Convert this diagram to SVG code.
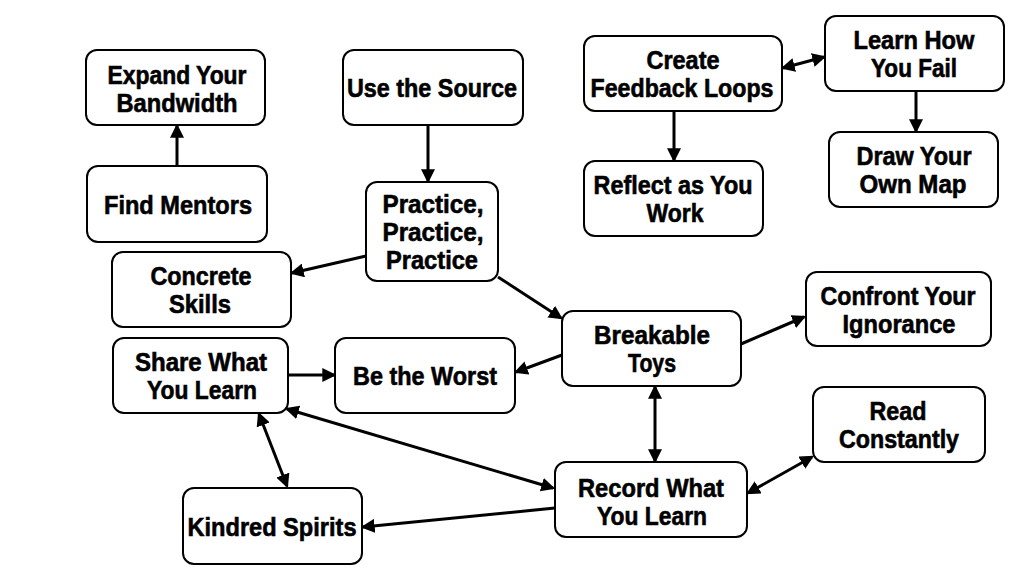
<svg xmlns="http://www.w3.org/2000/svg" width="1024" height="576" viewBox="0 0 1024 576">
<style>
.box{fill:#fff;stroke:#000;stroke-width:2}
.t{font-family:"Liberation Sans Narrow","Liberation Sans",Arial,sans-serif;font-weight:bold;font-size:25.5px;fill:#000;stroke:#000;stroke-width:0.6;text-anchor:middle}
.c{stroke:#000;stroke-width:3;fill:none}
.a{marker-end:url(#ah)}
.b{marker-start:url(#ah);marker-end:url(#ah)}
</style>
<defs>
<marker id="ah" viewBox="0 0 12 12" refX="10" refY="6" markerWidth="14" markerHeight="14" markerUnits="userSpaceOnUse" orient="auto-start-reverse">
<path d="M0,0 L12,6 L0,12 z" fill="#000"/>
</marker>
</defs>
<rect width="1024" height="576" fill="#fff"/>
<g id="connectors">
<line class="c a" x1="177" y1="166" x2="177" y2="126"/>
<line class="c a" x1="428" y1="125" x2="428" y2="181"/>
<line class="c a" x1="366" y1="256" x2="292" y2="273"/>
<line class="c a" x1="498" y1="277" x2="561" y2="318"/>
<line class="c a" x1="562" y1="355" x2="516" y2="372"/>
<line class="c a" x1="288" y1="375" x2="334" y2="375"/>
<line class="c a" x1="741" y1="344" x2="804" y2="317"/>
<line class="c b" x1="655" y1="387" x2="655" y2="461"/>
<line class="c b" x1="287" y1="409" x2="553" y2="488"/>
<line class="c b" x1="259" y1="414" x2="287" y2="486"/>
<line class="c a" x1="555" y1="508" x2="363" y2="527"/>
<line class="c b" x1="748" y1="493" x2="812" y2="457"/>
<line class="c b" x1="783" y1="68" x2="824" y2="57"/>
<line class="c a" x1="674" y1="111" x2="674" y2="160"/>
<line class="c a" x1="916" y1="91" x2="916" y2="131"/>
</g>
<g id="expand"><rect class="box" x="86" y="50" width="179" height="75" rx="11"/><text class="t" x="177" y="84" textLength="139" lengthAdjust="spacingAndGlyphs">Expand Your</text><text class="t" x="177" y="112" textLength="121" lengthAdjust="spacingAndGlyphs">Bandwidth</text></g>
<g id="mentors"><rect class="box" x="87" y="166" width="180" height="76" rx="11"/><text class="t" x="178" y="214" textLength="148" lengthAdjust="spacingAndGlyphs">Find Mentors</text></g>
<g id="source"><rect class="box" x="343" y="50" width="180" height="75" rx="11"/><text class="t" x="432" y="97" textLength="170" lengthAdjust="spacingAndGlyphs">Use the Source</text></g>
<g id="practice"><rect class="box" x="366" y="182" width="132" height="99" rx="11"/><text class="t" x="433" y="213" textLength="101" lengthAdjust="spacingAndGlyphs">Practice,</text><text class="t" x="433" y="241" textLength="101" lengthAdjust="spacingAndGlyphs">Practice,</text><text class="t" x="432" y="269" textLength="92" lengthAdjust="spacingAndGlyphs">Practice</text></g>
<g id="create"><rect class="box" x="584" y="36" width="198" height="75" rx="11"/><text class="t" x="683" y="69" textLength="73" lengthAdjust="spacingAndGlyphs">Create</text><text class="t" x="682" y="97" textLength="183" lengthAdjust="spacingAndGlyphs">Feedback Loops</text></g>
<g id="learnfail"><rect class="box" x="825" y="16" width="179" height="75" rx="11"/><text class="t" x="914" y="49" textLength="121" lengthAdjust="spacingAndGlyphs">Learn How</text><text class="t" x="914" y="77" textLength="86" lengthAdjust="spacingAndGlyphs">You Fail</text></g>
<g id="reflect"><rect class="box" x="584" y="161" width="179" height="75" rx="11"/><text class="t" x="673" y="194" textLength="159" lengthAdjust="spacingAndGlyphs">Reflect as You</text><text class="t" x="675" y="222" textLength="57" lengthAdjust="spacingAndGlyphs">Work</text></g>
<g id="drawmap"><rect class="box" x="829" y="132" width="169" height="75" rx="11"/><text class="t" x="914" y="165" textLength="115" lengthAdjust="spacingAndGlyphs">Draw Your</text><text class="t" x="913" y="193" textLength="107" lengthAdjust="spacingAndGlyphs">Own Map</text></g>
<g id="concrete"><rect class="box" x="112" y="252" width="179" height="75" rx="11"/><text class="t" x="201" y="285" textLength="101" lengthAdjust="spacingAndGlyphs">Concrete</text><text class="t" x="200" y="313" textLength="62" lengthAdjust="spacingAndGlyphs">Skills</text></g>
<g id="share"><rect class="box" x="113" y="338" width="175" height="75" rx="11"/><text class="t" x="201" y="371" textLength="132" lengthAdjust="spacingAndGlyphs">Share What</text><text class="t" x="202" y="399" textLength="110" lengthAdjust="spacingAndGlyphs">You Learn</text></g>
<g id="worst"><rect class="box" x="335" y="338" width="180" height="75" rx="11"/><text class="t" x="425" y="385" textLength="144" lengthAdjust="spacingAndGlyphs">Be the Worst</text></g>
<g id="breakable"><rect class="box" x="562" y="311" width="179" height="75" rx="11"/><text class="t" x="652" y="344" textLength="116" lengthAdjust="spacingAndGlyphs">Breakable</text><text class="t" x="652" y="372" textLength="48" lengthAdjust="spacingAndGlyphs">Toys</text></g>
<g id="confront"><rect class="box" x="806" y="272" width="185" height="74" rx="11"/><text class="t" x="898" y="305" textLength="155" lengthAdjust="spacingAndGlyphs">Confront Your</text><text class="t" x="899" y="333" textLength="113" lengthAdjust="spacingAndGlyphs">Ignorance</text></g>
<g id="read"><rect class="box" x="813" y="387" width="172" height="75" rx="11"/><text class="t" x="898" y="420" textLength="57" lengthAdjust="spacingAndGlyphs">Read</text><text class="t" x="899" y="448" textLength="120" lengthAdjust="spacingAndGlyphs">Constantly</text></g>
<g id="record"><rect class="box" x="555" y="462" width="192" height="75" rx="11"/><text class="t" x="651" y="497" textLength="146" lengthAdjust="spacingAndGlyphs">Record What</text><text class="t" x="652" y="525" textLength="110" lengthAdjust="spacingAndGlyphs">You Learn</text></g>
<g id="kindred"><rect class="box" x="183" y="488" width="179" height="76" rx="11"/><text class="t" x="272" y="536" textLength="169" lengthAdjust="spacingAndGlyphs">Kindred Spirits</text></g>
</svg>
